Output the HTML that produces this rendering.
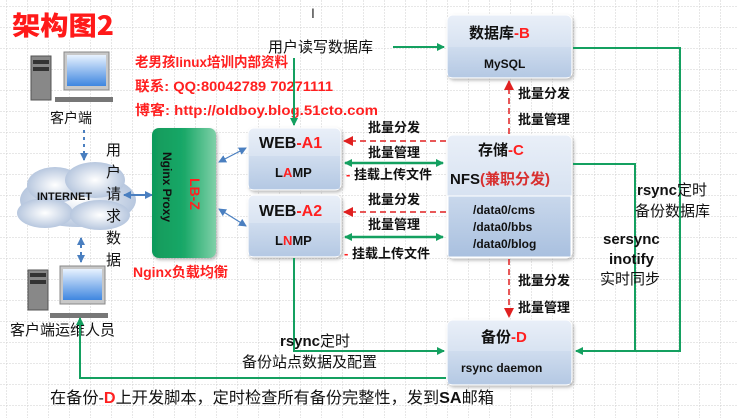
<!DOCTYPE html>
<html><head><meta charset="utf-8"><style>
html,body{margin:0;padding:0;background:#fff;}
svg{display:block;font-family:"Liberation Sans","Noto Sans CJK SC",sans-serif;}
.b{font-weight:bold;}
</style></head><body>
<svg width="738" height="418" viewBox="0 0 738 418" xmlns="http://www.w3.org/2000/svg">
<defs>
<pattern id="g" x="6" y="6" width="21" height="21" patternUnits="userSpaceOnUse">
<path d="M0 0H21M0 0V21" stroke="#cfcfcf" stroke-width="1" stroke-dasharray="2 1" fill="none"/>
</pattern>
<linearGradient id="bx" x1="0" y1="0" x2="0" y2="1"><stop offset="0" stop-color="#e9eff8"/><stop offset="1" stop-color="#c5d5ea"/></linearGradient>
<linearGradient id="bx2" x1="0" y1="0" x2="0" y2="1"><stop offset="0" stop-color="#c9d8ec"/><stop offset="1" stop-color="#a9c0df"/></linearGradient>
<linearGradient id="lb" x1="0" y1="0" x2="1" y2="0"><stop offset="0" stop-color="#109a5a"/><stop offset="0.5" stop-color="#1aa868"/><stop offset="1" stop-color="#7fd0a8"/></linearGradient>
<linearGradient id="mon" x1="0" y1="0" x2="0" y2="1"><stop offset="0" stop-color="#e8f2ff"/><stop offset="1" stop-color="#3f86e0"/></linearGradient>
<radialGradient id="cl" cx="0.5" cy="0.5" r="0.6"><stop offset="0" stop-color="#ffffff"/><stop offset="1" stop-color="#a9bcd8"/></radialGradient>
<marker id="ga" markerWidth="8" markerHeight="8" refX="7" refY="4" orient="auto" markerUnits="userSpaceOnUse"><path d="M0 0L8 4L0 8Z" fill="#14a060"/></marker>
<marker id="gs" markerWidth="8" markerHeight="8" refX="1" refY="4" orient="auto" markerUnits="userSpaceOnUse"><path d="M8 0L0 4L8 8Z" fill="#14a060"/></marker>
<marker id="ra" markerWidth="10" markerHeight="10" refX="9" refY="5" orient="auto" markerUnits="userSpaceOnUse"><path d="M0 0L10 5L0 10Z" fill="#e02020"/></marker>
<marker id="ba" markerWidth="8" markerHeight="8" refX="7" refY="4" orient="auto" markerUnits="userSpaceOnUse"><path d="M0 0L8 4L0 8Z" fill="#4a7fc0"/></marker>
<marker id="bs" markerWidth="8" markerHeight="8" refX="1" refY="4" orient="auto" markerUnits="userSpaceOnUse"><path d="M8 0L0 4L8 8Z" fill="#4a7fc0"/></marker>
<filter id="sh" x="-10%" y="-10%" width="125%" height="125%"><feDropShadow dx="1.5" dy="2" stdDeviation="1.5" flood-color="#777" flood-opacity="0.5"/></filter>
</defs>
<rect width="738" height="418" fill="url(#g)"/>

<!-- title -->
<text x="12" y="35" font-size="26" textLength="102" lengthAdjust="spacingAndGlyphs" class="b" fill="#ff1a1a" stroke="#fff" stroke-width="4" paint-order="stroke" style="font-family:'Noto Sans CJK SC',sans-serif;font-weight:900">架构图2</text>
<text x="311" y="18" font-size="14" fill="#333">I</text>

<!-- client 1 -->
<rect x="31" y="56" width="20" height="44" fill="#888" stroke="#555"/>
<rect x="33" y="60" width="16" height="4" fill="#333"/><rect x="33" y="67" width="16" height="4" fill="#333"/>
<rect x="64" y="52" width="45" height="38" fill="#c8c8c8" stroke="#888"/>
<rect x="67" y="55" width="39" height="31" fill="url(#mon)"/>
<rect x="55" y="97" width="58" height="5" fill="#777"/>
<text x="50" y="123" font-size="14" fill="#111">客户端</text>

<!-- red info -->
<g font-size="14" class="b" fill="#ff2020">
<text x="135" y="67" textLength="153" lengthAdjust="spacingAndGlyphs">老男孩linux培训内部资料</text>
<text x="135" y="91" textLength="198" lengthAdjust="spacingAndGlyphs">联系: QQ:80042789 70271111</text>
<text x="135" y="115" textLength="243" lengthAdjust="spacingAndGlyphs">博客: http://oldboy.blog.51cto.com</text>
</g>

<!-- cloud -->
<g fill="url(#cl)">
<ellipse cx="78" cy="200" rx="58" ry="27"/><ellipse cx="55" cy="185" rx="28" ry="18"/><ellipse cx="95" cy="180" rx="30" ry="18"/><ellipse cx="45" cy="213" rx="28" ry="15"/><ellipse cx="100" cy="215" rx="30" ry="15"/>
</g>
<text x="37" y="200" font-size="11" class="b" fill="#111">INTERNET</text>
<line x1="84" y1="130" x2="84" y2="160" stroke="#4a7fc0" stroke-width="2" stroke-dasharray="3 4" marker-end="url(#ba)"/>
<line x1="81" y1="238" x2="81" y2="262" stroke="#4a7fc0" stroke-width="2" stroke-dasharray="3 4" marker-start="url(#bs)" marker-end="url(#ba)"/>
<line x1="124" y1="195" x2="152" y2="195" stroke="#4a7fc0" stroke-width="2" marker-start="url(#bs)" marker-end="url(#ba)"/>
<g font-size="15" fill="#111">
<text x="106" y="155">用</text><text x="106" y="177">户</text><text x="106" y="199">请</text><text x="106" y="221">求</text><text x="106" y="243">数</text><text x="106" y="265">据</text>
</g>

<!-- client 2 -->
<rect x="28" y="270" width="20" height="40" fill="#888" stroke="#555"/>
<rect x="30" y="273" width="16" height="4" fill="#333"/><rect x="30" y="280" width="16" height="4" fill="#333"/>
<rect x="60" y="266" width="45" height="38" fill="#c8c8c8" stroke="#888"/>
<rect x="63" y="269" width="39" height="31" fill="url(#mon)"/>
<rect x="50" y="313" width="58" height="5" fill="#777"/>
<text x="10" y="335" font-size="15" fill="#111">客户端运维人员</text>

<!-- LB -->
<rect x="152" y="128" width="64" height="130" rx="7" fill="url(#lb)" filter="url(#sh)"/>
<text transform="translate(163,152) rotate(90)" font-size="12" class="b" fill="#111">Nginx Proxy</text>
<text transform="translate(190,178) rotate(90)" font-size="14" class="b" fill="#ff2020">LB-Z</text>
<text x="133" y="277" font-size="14" class="b" fill="#ff2020">Nginx负载均衡</text>
<line x1="219" y1="162" x2="246" y2="148" stroke="#4a7fc0" stroke-width="1.2" marker-start="url(#bs)" marker-end="url(#ba)"/>
<line x1="219" y1="209" x2="246" y2="226" stroke="#4a7fc0" stroke-width="1.2" marker-start="url(#bs)" marker-end="url(#ba)"/>

<!-- WEB A1/A2 -->
<g filter="url(#sh)">
<rect x="248" y="128" width="93" height="62" rx="6" fill="url(#bx)" stroke="#fff"/>
<rect x="248" y="195" width="93" height="62" rx="6" fill="url(#bx)" stroke="#fff"/>
</g>
<rect x="249" y="156" width="91" height="33" fill="url(#bx2)" opacity="0.6"/>
<rect x="249" y="223" width="91" height="33" fill="url(#bx2)" opacity="0.6"/>
<text x="259" y="148" font-size="16" class="b" fill="#111">WEB<tspan fill="#ff2020">-A1</tspan></text>
<text x="275" y="177" font-size="13" class="b" fill="#111">L<tspan fill="#ff2020">A</tspan>MP</text>
<text x="259" y="216" font-size="16" class="b" fill="#111">WEB<tspan fill="#ff2020">-A2</tspan></text>
<text x="275" y="245" font-size="13" class="b" fill="#111">L<tspan fill="#ff2020">N</tspan>MP</text>

<!-- DB B -->
<rect x="447" y="15" width="125" height="63" rx="6" fill="url(#bx)" stroke="#fff" filter="url(#sh)"/>
<rect x="448" y="47" width="123" height="30" fill="url(#bx2)" opacity="0.6"/>
<text x="469" y="38" font-size="15" class="b" fill="#111">数据库<tspan fill="#ff2020">-B</tspan></text>
<text x="484" y="68" font-size="12" class="b" fill="#111">MySQL</text>

<!-- Storage C -->
<rect x="447" y="135" width="125" height="123" rx="6" fill="url(#bx)" stroke="#fff" filter="url(#sh)"/>
<rect x="448" y="196" width="123" height="61" fill="url(#bx2)" stroke="#fff"/>
<text x="478" y="155" font-size="15" class="b" fill="#111">存储<tspan fill="#ff2020">-C</tspan></text>
<text x="450" y="184" font-size="15" class="b" fill="#111">NFS<tspan fill="#d83030">(兼职分发)</tspan></text>
<g font-size="12" class="b" fill="#111"><text x="473" y="214">/data0/cms</text><text x="473" y="231">/data0/bbs</text><text x="473" y="248">/data0/blog</text></g>

<!-- Backup D -->
<rect x="447" y="320" width="125" height="65" rx="6" fill="url(#bx)" stroke="#fff" filter="url(#sh)"/>
<rect x="448" y="351" width="123" height="33" fill="url(#bx2)" opacity="0.6"/>
<text x="481" y="342" font-size="15" class="b" fill="#111">备份<tspan fill="#ff2020">-D</tspan></text>
<text x="461" y="372" font-size="12" class="b" fill="#111">rsync daemon</text>

<!-- read/write DB -->
<text x="268" y="52" font-size="15" fill="#111">用户读写数据库</text>
<line x1="393" y1="47" x2="444" y2="47" stroke="#14a060" stroke-width="2" marker-end="url(#ga)"/>
<line x1="294" y1="58" x2="294" y2="125" stroke="#14a060" stroke-width="2" marker-end="url(#ga)"/>

<!-- web<->storage -->
<g stroke="#e02020" stroke-width="1.5" stroke-dasharray="6 4" fill="none">
<line x1="446" y1="141" x2="344" y2="141" marker-end="url(#ra)"/>
<line x1="446" y1="212" x2="344" y2="212" marker-end="url(#ra)"/>
<line x1="509" y1="134" x2="509" y2="81" marker-end="url(#ra)"/>
<line x1="509" y1="259" x2="509" y2="317" marker-end="url(#ra)"/>
</g>
<line x1="345" y1="163" x2="443" y2="163" stroke="#14a060" stroke-width="2.5" marker-start="url(#gs)" marker-end="url(#ga)"/>
<line x1="345" y1="237" x2="443" y2="237" stroke="#14a060" stroke-width="2.5" marker-start="url(#gs)" marker-end="url(#ga)"/>
<g font-size="13" class="b" fill="#111">
<text x="368" y="132">批量分发</text><text x="368" y="157">批量管理</text>
<text x="346" y="179"><tspan fill="#ff2020">- </tspan>挂载上传文件</text>
<text x="368" y="204">批量分发</text><text x="368" y="229">批量管理</text>
<text x="344" y="258"><tspan fill="#ff2020">- </tspan>挂载上传文件</text>
<text x="518" y="98">批量分发</text><text x="518" y="124">批量管理</text>
<text x="518" y="285">批量分发</text><text x="518" y="312">批量管理</text>
</g>

<!-- right side lines -->
<polyline points="573,48 680,48 680,351 576,351" fill="none" stroke="#14a060" stroke-width="2" marker-end="url(#ga)"/>
<polyline points="573,164 635,164 635,351" fill="none" stroke="#14a060" stroke-width="2"/>
<g font-size="15" class="b" fill="#111">
<text x="637" y="195">rsync<tspan font-weight="normal">定时</tspan></text>
<text x="635" y="216" font-weight="normal">备份数据库</text>
<text x="603" y="244">sersync</text>
<text x="609" y="264">inotify</text>
<text x="600" y="284" font-weight="normal">实时同步</text>
</g>

<!-- web -> backup -->
<polyline points="294,258 294,351 444,351" fill="none" stroke="#14a060" stroke-width="2" marker-end="url(#ga)"/>
<text x="280" y="346" font-size="15" class="b" fill="#111">rsync<tspan font-weight="normal">定时</tspan></text>
<text x="242" y="367" font-size="15" fill="#111">备份站点数据及配置</text>
<polyline points="446,378 80,378 80,318" fill="none" stroke="#14a060" stroke-width="2" marker-end="url(#ga)"/>

<text x="50" y="403" font-size="16" textLength="444" lengthAdjust="spacingAndGlyphs" fill="#111">在备份-<tspan fill="#ff2020" font-weight="bold">D</tspan>上开发脚本，定时检查所有备份完整性，发到<tspan font-weight="bold">SA</tspan>邮箱</text>
</svg>
</body></html>
